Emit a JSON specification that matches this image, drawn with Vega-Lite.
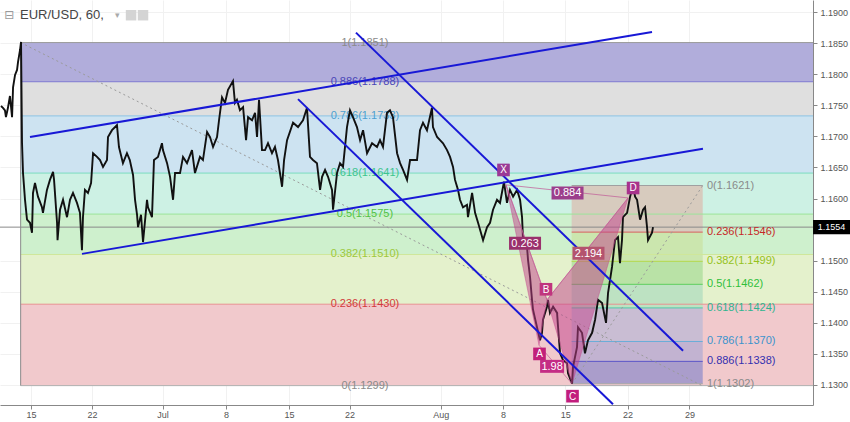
{
  "$schema": "https://vega.github.io/schema/vega-lite/v6.json",
  "width": 813,
  "height": 405,
  "autosize": "none",
  "padding": {"left": 0, "top": 0, "right": 37, "bottom": 17},
  "background": "white",
  "config": {"view": {"stroke": null}, "font": "Liberation Sans", "text": {"font": "Liberation Sans"}},
  "datasets": {
    "price": [
      {"t":-2.41,"p":1.1749},{"t":-2.25,"p":1.1746},{"t":-2.09,"p":1.1742},{"t":-2.01,"p":1.1731},{"t":-1.85,"p":1.1746},{"t":-1.69,"p":1.1765},{"t":-1.52,"p":1.1731},{"t":-1.44,"p":1.1779},{"t":-1.28,"p":1.1799},{"t":-1.12,"p":1.1807},{"t":-1.04,"p":1.182},{"t":-0.88,"p":1.1839},{"t":-0.8,"p":1.1852},
      {"t":-0.72,"p":1.1689},{"t":-0.64,"p":1.1641},{"t":-0.48,"p":1.1598},{"t":-0.32,"p":1.1566},{"t":-0.08,"p":1.1561},{"t":0.08,"p":1.1545},{"t":0.16,"p":1.1609},{"t":0.32,"p":1.1625},{"t":0.56,"p":1.1603},{"t":0.88,"p":1.1586},{"t":0.96,"p":1.1577},{"t":1.28,"p":1.1614},{"t":1.52,"p":1.163},{"t":1.77,"p":1.1643},{"t":1.85,"p":1.163},{"t":2.09,"p":1.1561},{"t":2.13,"p":1.1533},{"t":2.33,"p":1.1582},{"t":2.57,"p":1.1598},{"t":2.89,"p":1.157},{"t":3.13,"p":1.1598},{"t":3.37,"p":1.1609},{"t":3.69,"p":1.1593},{"t":3.93,"p":1.1577},{"t":4.09,"p":1.1517},{"t":4.17,"p":1.157},{"t":4.33,"p":1.1614},{"t":4.57,"p":1.1609},{"t":4.82,"p":1.1625},{"t":4.98,"p":1.1673},{"t":5.3,"p":1.1667},{"t":5.54,"p":1.1662},{"t":5.78,"p":1.1651},{"t":6.1,"p":1.1662},{"t":6.18,"p":1.1699},{"t":6.5,"p":1.171},{"t":6.9,"p":1.1718},{"t":7.06,"p":1.1683},{"t":7.38,"p":1.1657},{"t":7.7,"p":1.1673},{"t":7.93,"p":1.1662},{"t":8.19,"p":1.1638},{"t":8.35,"p":1.1598},{"t":8.51,"p":1.1574},{"t":8.59,"p":1.1554},{"t":8.83,"p":1.1574},{"t":8.99,"p":1.153},{"t":9.31,"p":1.1598},{"t":9.39,"p":1.1586},{"t":9.71,"p":1.157},{"t":9.87,"p":1.1662},{"t":10.19,"p":1.1667},{"t":10.51,"p":1.1689},{"t":10.59,"p":1.1678},{"t":10.92,"p":1.1657},{"t":11.16,"p":1.1635},{"t":11.4,"p":1.1598},{"t":11.56,"p":1.1641},{"t":11.96,"p":1.1641},{"t":12.2,"p":1.1667},{"t":12.52,"p":1.1657},{"t":12.92,"p":1.1678},{"t":13.16,"p":1.1641},{"t":13.56,"p":1.1667},{"t":13.8,"p":1.1662},{"t":14.13,"p":1.1707},{"t":14.37,"p":1.1699},{"t":14.61,"p":1.1683},{"t":14.93,"p":1.1699},{"t":15.09,"p":1.1726},{"t":15.33,"p":1.1763},{"t":15.57,"p":1.1754},{"t":15.81,"p":1.1775},{"t":16.21,"p":1.1789},{"t":16.37,"p":1.1754},{"t":16.53,"p":1.1759},{"t":16.77,"p":1.1742},{"t":17.02,"p":1.1747},{"t":17.26,"p":1.1694},{"t":17.42,"p":1.1731},{"t":17.74,"p":1.1726},{"t":17.98,"p":1.1738},{"t":18.14,"p":1.1699},{"t":18.3,"p":1.1759},{"t":18.54,"p":1.1678},{"t":18.78,"p":1.1678},{"t":19.02,"p":1.1689},{"t":19.34,"p":1.1673},{"t":19.58,"p":1.1683},{"t":19.82,"p":1.1662},{"t":20.15,"p":1.1619},{"t":20.31,"p":1.1662},{"t":20.55,"p":1.1694},{"t":21.03,"p":1.1722},{"t":21.43,"p":1.1715},{"t":21.83,"p":1.1726},{"t":22.15,"p":1.1746},{"t":22.39,"p":1.1667},{"t":22.63,"p":1.1662},{"t":22.95,"p":1.1657},{"t":23.2,"p":1.1614},{"t":23.36,"p":1.1635},{"t":23.6,"p":1.1646},{"t":23.84,"p":1.1635},{"t":24.16,"p":1.1614},{"t":24.24,"p":1.1582},{"t":24.56,"p":1.1641},{"t":24.8,"p":1.1657},{"t":25.04,"p":1.1651},{"t":25.36,"p":1.1715},{"t":25.6,"p":1.1742},{"t":25.84,"p":1.1731},{"t":26.16,"p":1.1715},{"t":26.41,"p":1.1694},{"t":26.65,"p":1.171},{"t":26.97,"p":1.1673},{"t":27.37,"p":1.1689},{"t":27.77,"p":1.1683},{"t":28.01,"p":1.1694},{"t":28.25,"p":1.1683},{"t":28.57,"p":1.1738},{"t":28.81,"p":1.1742},{"t":29.05,"p":1.1731},{"t":29.38,"p":1.1673},{"t":29.62,"p":1.1657},{"t":29.86,"p":1.1646},{"t":30.18,"p":1.163},{"t":30.42,"p":1.1662},{"t":30.66,"p":1.1662},{"t":30.98,"p":1.1662},{"t":31.22,"p":1.171},{"t":31.46,"p":1.1722},{"t":31.78,"p":1.171},{"t":32.18,"p":1.1746},{"t":32.26,"p":1.1715},{"t":32.59,"p":1.1699},{"t":32.83,"p":1.1694},{"t":33.07,"p":1.1689},{"t":33.39,"p":1.1678},{"t":33.63,"p":1.1667},{"t":33.87,"p":1.1651},{"t":34.03,"p":1.163},{"t":34.27,"p":1.1614},{"t":34.43,"p":1.1598},{"t":34.67,"p":1.1586},{"t":34.99,"p":1.159},{"t":35.07,"p":1.157},{"t":35.4,"p":1.1609},{"t":35.64,"p":1.1577},{"t":35.88,"p":1.1561},{"t":36.28,"p":1.1533},{"t":36.6,"p":1.1554},{"t":36.84,"p":1.1561},{"t":37.08,"p":1.1582},{"t":37.4,"p":1.1598},{"t":37.64,"p":1.1593},{"t":37.96,"p":1.1627},{"t":38.2,"p":1.1593},{"t":38.44,"p":1.1614},{"t":38.69,"p":1.1603},{"t":39.01,"p":1.1614},{"t":39.25,"p":1.1598},{"t":39.41,"p":1.157},{"t":39.49,"p":1.1533},{"t":39.81,"p":1.1522},{"t":39.89,"p":1.1501},{"t":40.05,"p":1.1474},{"t":40.21,"p":1.1437},{"t":40.29,"p":1.1421},{"t":40.61,"p":1.1393},{"t":40.85,"p":1.1372},{"t":41.01,"p":1.1384},{"t":41.09,"p":1.1405},{"t":41.41,"p":1.1426},{"t":41.49,"p":1.1437},{"t":41.65,"p":1.1416},{"t":41.9,"p":1.1426},{"t":42.22,"p":1.1416},{"t":42.3,"p":1.1393},{"t":42.46,"p":1.1351},{"t":42.7,"p":1.134},{"t":43.02,"p":1.1335},{"t":43.1,"p":1.1319},{"t":43.42,"p":1.1302},{"t":43.5,"p":1.1329},{"t":43.82,"p":1.1361},{"t":43.9,"p":1.1393},{"t":44.22,"p":1.1384},{"t":44.46,"p":1.1351},{"t":44.7,"p":1.1372},{"t":45.03,"p":1.1384},{"t":45.27,"p":1.1405},{"t":45.51,"p":1.1437},{"t":45.83,"p":1.1432},{"t":46.15,"p":1.14},{"t":46.31,"p":1.1448},{"t":46.63,"p":1.149},{"t":46.87,"p":1.1533},{"t":47.11,"p":1.1538},{"t":47.27,"p":1.1496},{"t":47.43,"p":1.1533},{"t":47.51,"p":1.157},{"t":47.84,"p":1.1577},{"t":48.08,"p":1.1603},{"t":48.32,"p":1.1621},{"t":48.48,"p":1.1603},{"t":48.64,"p":1.1598},{"t":48.88,"p":1.1566},{"t":49.12,"p":1.1582},{"t":49.28,"p":1.1586},{"t":49.44,"p":1.1554},{"t":49.52,"p":1.1533},{"t":49.84,"p":1.1545},{"t":49.92,"p":1.1554}
    ],
    "fibLbands": [
      {"t":-0.83,"t2":62.76,"p":1.1851,"p2":1.1788,"band":"0.886-1"},{"t":-0.83,"t2":62.76,"p":1.1788,"p2":1.1733,"band":"0.786-0.886"},{"t":-0.83,"t2":62.76,"p":1.1733,"p2":1.1641,"band":"0.618-0.786"},{"t":-0.83,"t2":62.76,"p":1.1641,"p2":1.1575,"band":"0.5-0.618"},{"t":-0.83,"t2":62.76,"p":1.1575,"p2":1.151,"band":"0.382-0.5"},{"t":-0.83,"t2":62.76,"p":1.151,"p2":1.143,"band":"0.236-0.382"},{"t":-0.83,"t2":62.76,"p":1.143,"p2":1.1299,"band":"0-0.236"}
    ],
    "fibRbands": [
      {"t":43.39,"t2":53.91,"p":1.1621,"p2":1.1546,"band":"0-0.236"},{"t":43.39,"t2":53.91,"p":1.1546,"p2":1.1499,"band":"0.236-0.382"},{"t":43.39,"t2":53.91,"p":1.1499,"p2":1.1462,"band":"0.382-0.5"},{"t":43.39,"t2":53.91,"p":1.1462,"p2":1.1424,"band":"0.5-0.618"},{"t":43.39,"t2":53.91,"p":1.1424,"p2":1.137,"band":"0.618-0.786"},{"t":43.39,"t2":53.91,"p":1.137,"p2":1.1338,"band":"0.786-0.886"},{"t":43.39,"t2":53.91,"p":1.1338,"p2":1.1302,"band":"0.886-1"}
    ],
    "fibL": [
      {"r":"1","t":-0.83,"t2":62.76,"p":1.1851},{"r":"0.886","t":-0.83,"t2":62.76,"p":1.1788},{"r":"0.786","t":-0.83,"t2":62.76,"p":1.1733},{"r":"0.618","t":-0.83,"t2":62.76,"p":1.1641},{"r":"0.5","t":-0.83,"t2":62.76,"p":1.1575},{"r":"0.382","t":-0.83,"t2":62.76,"p":1.151},{"r":"0.236","t":-0.83,"t2":62.76,"p":1.143},{"r":"0","t":-0.83,"t2":62.76,"p":1.1299}
    ],
    "fibLlab": [
      {"r":"1","t":26.8,"p":1.1851,"label":"1(1.1851)"},{"r":"0.886","t":26.8,"p":1.1788,"label":"0.886(1.1788)"},{"r":"0.786","t":26.8,"p":1.1733,"label":"0.786(1.1733)"},{"r":"0.618","t":26.8,"p":1.1641,"label":"0.618(1.1641)"},{"r":"0.5","t":26.8,"p":1.1575,"label":"0.5(1.1575)"},{"r":"0.382","t":26.8,"p":1.151,"label":"0.382(1.1510)"},{"r":"0.236","t":26.8,"p":1.143,"label":"0.236(1.1430)"},{"r":"0","t":26.8,"p":1.1299,"label":"0(1.1299)"}
    ],
    "fibR": [
      {"r":"0","t":43.39,"t2":53.91,"p":1.1621},{"r":"0.236","t":43.39,"t2":53.91,"p":1.1546},{"r":"0.382","t":43.39,"t2":53.91,"p":1.1499},{"r":"0.5","t":43.39,"t2":53.91,"p":1.1462},{"r":"0.618","t":43.39,"t2":53.91,"p":1.1424},{"r":"0.786","t":43.39,"t2":53.91,"p":1.137},{"r":"0.886","t":43.39,"t2":53.91,"p":1.1338},{"r":"1","t":43.39,"t2":53.91,"p":1.1302}
    ],
    "fibRlab": [
      {"r":"0","t":54.25,"p":1.1621,"label":"0(1.1621)"},{"r":"0.236","t":54.25,"p":1.1546,"label":"0.236(1.1546)"},{"r":"0.382","t":54.25,"p":1.1499,"label":"0.382(1.1499)"},{"r":"0.5","t":54.25,"p":1.1462,"label":"0.5(1.1462)"},{"r":"0.618","t":54.25,"p":1.1424,"label":"0.618(1.1424)"},{"r":"0.786","t":54.25,"p":1.137,"label":"0.786(1.1370)"},{"r":"0.886","t":54.25,"p":1.1338,"label":"0.886(1.1338)"},{"r":"1","t":54.25,"p":1.1302,"label":"1(1.1302)"}
    ],
    "lastline": [{"t":-2.488,"t2":62.76,"p":1.1554}],
    "lasttag": [{"t":64.25,"p":1.1554}],
    "diag": [
      {"t":-0.83,"p":1.1851,"t2":53.86,"p2":1.1299},
      {"t":43.42,"p":1.1302,"t2":53.91,"p2":1.1621}
    ],
    "edge": [{"t":-0.83,"p":1.1851,"t2":-0.83,"p2":1.1299}],
    "channels": [
      {"t":-0.08,"p":1.1699,"t2":49.84,"p2":1.1868},
      {"t":4.09,"p":1.1511,"t2":53.93,"p2":1.168},
      {"t":26.08,"p":1.1867,"t2":52.33,"p2":1.1355},
      {"t":21.43,"p":1.176,"t2":46.71,"p2":1.1269}
    ],
    "hlines": [
      {"leg":"XB","t":38.12,"p":1.1622,"t2":41.41,"p2":1.1437},
      {"leg":"AC","t":40.77,"p":1.1364,"t2":43.42,"p2":1.1302},
      {"leg":"BD","t":41.41,"p":1.1437,"t2":47.92,"p2":1.1601},
      {"leg":"XD","t":38.12,"p":1.1622,"t2":47.92,"p2":1.1601}
    ],
    "tri": [
      {"tri":"XAB","i":0,"t":38.12,"p":1.1622},{"tri":"XAB","i":1,"t":40.77,"p":1.1364},{"tri":"XAB","i":2,"t":41.41,"p":1.1437},{"tri":"XAB","i":3,"t":38.12,"p":1.1622},
      {"tri":"BCD","i":0,"t":41.41,"p":1.1437},{"tri":"BCD","i":1,"t":43.42,"p":1.1302},{"tri":"BCD","i":2,"t":47.92,"p":1.1601},{"tri":"BCD","i":3,"t":41.41,"p":1.1437}
    ],
    "pts": [
      {"label":"X","t":37.92,"p":1.1646},{"label":"A","t":40.81,"p":1.135},{"label":"B","t":41.33,"p":1.1454},{"label":"C","t":43.46,"p":1.1282},{"label":"D","t":48.32,"p":1.1617}
    ],
    "ratios": [
      {"label":"0.884","t":43.06,"p":1.1609},{"label":"0.263","t":39.65,"p":1.1528},{"label":"1.98","t":41.82,"p":1.133},{"label":"2.194","t":44.74,"p":1.1512}
    ],
    "title": [
      {"kind":"title","t":-0.88,"p":1.1895,"label":"EUR/USD, 60,"},
      {"kind":"icon","t":-2.15,"p":1.1895,"label":"⊟"},
      {"kind":"arrow","t":6.75,"p":1.1895,"label":"▾"},
      {"kind":"box","t":8.03,"p":1.1895,"label":"eye"},
      {"kind":"box","t":8.99,"p":1.1895,"label":"gear"}
    ]
  },
  "encoding": {
    "x": {"field":"t","type":"quantitative","scale":{"domain":[-2.488,62.76],"nice":false,"zero":false},
      "axis":{"title":null,"orient":"bottom","values":[0,4.9,10.56,15.65,20.7,25.57,32.88,37.88,42.88,47.88,52.84],
        "labelExpr":"datum.value < 2 ? '15' : datum.value < 7 ? '22' : datum.value < 13 ? 'Jul' : datum.value < 18 ? '8' : datum.value < 23 ? '15' : datum.value < 28 ? '22' : datum.value < 35 ? 'Aug' : datum.value < 40 ? '8' : datum.value < 45 ? '15' : datum.value < 50 ? '22' : '29'",
        "labelFontSize":9,"labelColor":"#555","tickColor":"#888","tickSize":4,"domainColor":"#888","grid":true,"gridColor":"#f1f1f1","labelPadding":1,"labelFlush":false}},
    "y": {"field":"p","type":"quantitative","scale":{"domain":[1.12678,1.19195],"nice":false,"zero":false},
      "axis":{"title":null,"orient":"right","values":[1.13,1.135,1.14,1.145,1.15,1.16,1.165,1.17,1.175,1.18,1.185,1.19],"format":".4f",
        "labelFontSize":9,"labelColor":"#555","tickColor":"#888","tickSize":4,"domainColor":"#888","grid":true,"gridColor":"#f1f1f1","labelPadding":3}}
  },
  "layer": [
    {"data":{"name":"fibLbands"},"mark":{"type":"rect"},
     "encoding":{"x2":{"field":"t2"},"y2":{"field":"p2"},
       "color":{"field":"band","type":"nominal","legend":null,"scale":{"domain":["0.886-1","0.786-0.886","0.618-0.786","0.5-0.618","0.382-0.5","0.236-0.382","0-0.236"],"range":["#b1addb","#dfdfdf","#cde3f1","#cdf1e4","#cef0cd","#e4f1cc","#f1c9cc"]}}}},
    {"data":{"name":"fibRbands"},"mark":{"type":"rect"},
     "encoding":{"x2":{"field":"t2"},"y2":{"field":"p2"},
       "color":{"field":"band","type":"nominal","legend":null,"scale":{"domain":["0-0.236","0.236-0.382","0.382-0.5","0.5-0.618","0.618-0.786","0.786-0.886","0.886-1"],"range":["#d7cbbe","#cbe6ae","#b9e2a6","#bde2c2","#c9bdd3","#c2b3d1","#aa9dcb"]}}}},
    {"data":{"name":"fibL"},"mark":{"type":"rule","strokeWidth":1},
     "encoding":{"x2":{"field":"t2"},
       "color":{"field":"r","type":"nominal","legend":null,"scale":{"domain":["1","0.886","0.786","0.618","0.5","0.382","0.236","0"],"range":["#9a9a9a","#7b76d0","#8cc4e6","#7adcc0","#9be49a","#cfe79a","#e89090","#b0b0b0"]}}}},
    {"data":{"name":"fibR"},"mark":{"type":"rule","strokeWidth":1},
     "encoding":{"x2":{"field":"t2"},
       "color":{"field":"r","type":"nominal","legend":null,"scale":{"domain":["0","0.236","0.382","0.5","0.618","0.786","0.886","1"],"range":["#a0a0a0","#d86060","#b4d84a","#5ccf5c","#50c8a8","#6aaed8","#5a55c8","#a8a8a8"]}}}},
    {"data":{"name":"lastline"},"mark":{"type":"rule","color":"#8a8a8a","strokeWidth":1},
     "encoding":{"x2":{"field":"t2"}}},
    {"data":{"name":"edge"},"mark":{"type":"rule","color":"#8a8a8a","strokeWidth":1},
     "encoding":{"x2":{"field":"t2"},"y2":{"field":"p2"}}},
    {"data":{"name":"diag"},"mark":{"type":"rule","color":"#9a9a9a","strokeWidth":1,"strokeDash":[2,3]},
     "encoding":{"x2":{"field":"t2"},"y2":{"field":"p2"}}},
    {"data":{"name":"fibLlab"},"mark":{"type":"text","align":"center","baseline":"middle","fontSize":11},
     "encoding":{"text":{"field":"label"},
       "color":{"field":"r","type":"nominal","legend":null,"scale":{"domain":["1","0.886","0.786","0.618","0.5","0.382","0.236","0"],"range":["#8a8a8a","#4a46b8","#4d9fd0","#3cc48e","#52c243","#9cc83c","#d23a3a","#8a8a8a"]}}}},
    {"data":{"name":"price"},"mark":{"type":"line","color":"#111111","strokeWidth":1.9,"strokeJoin":"miter"},"encoding":{}},
    {"data":{"name":"tri"},"mark":{"type":"line","fill":"#c2408a","fillOpacity":0.5,"stroke":"#c2408a","strokeOpacity":0.4,"strokeWidth":1},
     "encoding":{"detail":{"field":"tri"},"order":{"field":"i","type":"quantitative"}}},
    {"data":{"name":"hlines"},"mark":{"type":"rule","color":"#c2609a","opacity":0.75,"strokeWidth":1},
     "encoding":{"x2":{"field":"t2"},"y2":{"field":"p2"}}},
    {"data":{"name":"channels"},"mark":{"type":"rule","color":"#1818d6","strokeWidth":2},
     "encoding":{"x2":{"field":"t2"},"y2":{"field":"p2"}}},
    {"data":{"name":"fibRlab"},"mark":{"type":"text","align":"left","baseline":"middle","fontSize":11},
     "encoding":{"text":{"field":"label"},
       "color":{"field":"r","type":"nominal","legend":null,"scale":{"domain":["0","0.236","0.382","0.5","0.618","0.786","0.886","1"],"range":["#8a8a8a","#c62828","#94c21c","#2fbf3a","#2eb58f","#3b93cc","#3431b0","#8a8a8a"]}}}},
    {"data":{"name":"pts"},"mark":{"type":"point","shape":"square","size":160,"filled":true,"opacity":1,"strokeWidth":0},
     "encoding":{"color":{"field":"label","type":"nominal","legend":null,"scale":{"domain":["X","A","B","C","D"],"range":["#9a3a96","#c2207a","#c0357e","#c21d7d","#a8338c"]}}}},
    {"data":{"name":"pts"},"mark":{"type":"text","align":"center","baseline":"middle","fontSize":10,"color":"white","dy":0.5},
     "encoding":{"text":{"field":"label"}}},
    {"data":{"name":"ratios"},"transform":[{"filter":"datum.label != '1.98'"}],
     "mark":{"type":"point","shape":"M-1,-0.41H1V0.41H-1Z","size":1024,"filled":true,"opacity":1,"strokeWidth":0},
     "encoding":{"color":{"field":"label","type":"nominal","legend":null,"scale":{"domain":["0.884","0.263","2.194"],"range":["#9c3e8c","#9a306c","#b4536e"]}}}},
    {"data":{"name":"ratios"},"transform":[{"filter":"datum.label == '1.98'"}],
     "mark":{"type":"point","shape":"M-1,-0.54H1V0.54H-1Z","size":576,"filled":true,"opacity":1,"strokeWidth":0,"color":"#c42c85"},
     "encoding":{}},
    {"data":{"name":"ratios"},"mark":{"type":"text","align":"center","baseline":"middle","fontSize":11,"color":"white","dy":0.5},
     "encoding":{"text":{"field":"label"}}},
    {"data":{"name":"lasttag"},"mark":{"type":"point","shape":"M-1,-0.38H1V0.38H-1Z","size":1369,"filled":true,"opacity":1,"strokeWidth":0,"color":"#000000"},
     "encoding":{}},
    {"data":{"name":"lasttag"},"mark":{"type":"text","align":"center","baseline":"middle","fontSize":9,"color":"white"},
     "encoding":{"text":{"field":"p","format":".4f"}}},
    {"data":{"name":"title"},"transform":[{"filter":"datum.kind == 'title'"}],"mark":{"type":"text","align":"left","baseline":"middle","fontSize":13,"color":"#444444"},
     "encoding":{"text":{"field":"label"}}},
    {"data":{"name":"title"},"transform":[{"filter":"datum.kind == 'icon'"}],"mark":{"type":"text","align":"left","baseline":"middle","fontSize":12,"color":"#9a9a9a","font":"DejaVu Sans"},
     "encoding":{"text":{"field":"label"}}},
    {"data":{"name":"title"},"transform":[{"filter":"datum.kind == 'arrow'"}],"mark":{"type":"text","align":"left","baseline":"middle","fontSize":9,"color":"#aaaaaa","font":"DejaVu Sans"},
     "encoding":{"text":{"field":"label"}}},
    {"data":{"name":"title"},"transform":[{"filter":"datum.kind == 'box'"}],"mark":{"type":"point","shape":"square","size":110,"filled":true,"opacity":1,"strokeWidth":0,"color":"#d4d4d4"},
     "encoding":{}}
  ],
  "resolve": {"scale": {"color": "independent"}}
}
